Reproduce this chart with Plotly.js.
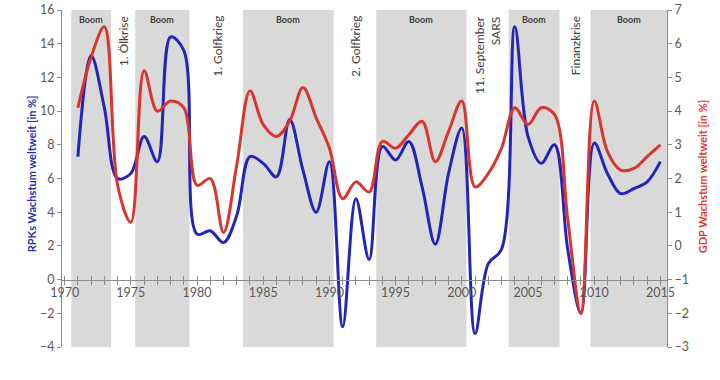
<!DOCTYPE html>
<html>
<head>
<meta charset="utf-8">
<script src="https://cdn.plot.ly/plotly-3.0.1.min.js"></script>
<style>html,body{margin:0;padding:0;background:#fff;}#chart{width:720px;height:380px;}</style>
</head>
<body>
<div id="chart"></div>
<script>
const years = [1971,1972,1973,1974,1975,1976,1977,1978,1979,1980,1981,1982,1983,1984,1985,1986,1987,1988,1989,1990,1991,1992,1993,1994,1995,1996,1997,1998,1999,2000,2001,2002,2003,2004,2005,2006,2007,2008,2009,2010,2011,2012,2013,2014,2015];
const rpkGrowth = [7.3,13.3,10.2,6.0,6.3,8.5,7.0,14.4,13.6,2.7,2.9,2.2,3.8,7.3,6.9,6.1,9.5,6.5,4.0,7.0,-2.8,4.8,1.2,7.9,7.1,8.2,5.5,2.1,6.3,9.0,-3.2,0.95,1.8,15.0,8.5,6.9,8.0,1.8,-2.0,8.1,6.3,5.1,5.4,5.8,7.0];
const gdpGrowth = [4.1,5.6,6.5,1.8,0.7,5.2,4.0,4.3,4.1,1.8,2.0,0.4,2.4,4.6,3.6,3.25,3.7,4.7,3.8,2.9,1.4,1.9,1.6,3.1,2.9,3.3,3.7,2.5,3.4,4.3,1.75,2.15,2.9,4.1,3.6,4.1,3.9,0.8,-2.0,4.3,2.8,2.25,2.3,2.65,3.0];
const boomStart = [1970.5,1975.33,1983.47,1993.54,2003.54,2009.72];
const boomEnd   = [1973.51,1979.43,1990.32,2000.35,2007.38,2015.5];
const boomLabel = "Boom";
const eventX = [1974.42,1981.53,1991.96,2001.9,2008.6];
const eventText = ["1. Ölkrise","1. Golfkrieg","2. Golfkrieg","11. September<br>SARS","Finanzkrise"];
const xTickVals = [1970,1975,1980,1985,1990,1995,2000,2005,2010,2015];
const leftTitle = "RPKs Wachstum weltweit [in %]";
const rightTitle = "GDP Wachstum weltweit [in %]";

const FONT = "Lato, 'Open Sans', sans-serif";
const shapes = boomStart.map((s,i)=>({type:'rect',xref:'x',yref:'paper',x0:s,x1:boomEnd[i],y0:0,y1:1,fillcolor:'#d9d9d9',line:{width:0},layer:'below'}));
const annotations = [];
boomStart.forEach((s,i)=>{
  annotations.push({xref:'x',yref:'paper',x:(s+boomEnd[i])/2,y:0.995,yanchor:'top',xanchor:'center',text:'<b>'+boomLabel+'</b>',showarrow:false,font:{family:FONT,size:9,color:'#404040'}});
});
eventX.forEach((x,i)=>{
  annotations.push({xref:'x',yref:'paper',x:x,y:0.988,yanchor:'top',xanchor:'center',text:eventText[i],textangle:-90,align:'right',showarrow:false,font:{family:FONT,size:12,color:'#404040'}});
});
annotations.push({xref:'paper',yref:'paper',x:-0.051,y:0.513,xanchor:'center',yanchor:'middle',textangle:-90,text:'<b>'+leftTitle+'</b>',showarrow:false,font:{family:FONT,size:11,color:'#2b2bb5'}});
annotations.push({xref:'paper',yref:'paper',x:1.058,y:0.504,xanchor:'center',yanchor:'middle',textangle:-90,text:'<b>'+rightTitle+'</b>',showarrow:false,font:{family:FONT,size:11,color:'#e0392e'}});

const traces = [
  {x:years,y:rpkGrowth,type:'scatter',mode:'lines',line:{color:'#2424b8',width:3,shape:'spline',smoothing:1},xaxis:'x',yaxis:'y',hoverinfo:'skip'},
  {x:years,y:gdpGrowth,type:'scatter',mode:'lines',line:{color:'#d9352c',width:3,shape:'spline',smoothing:1},xaxis:'x',yaxis:'y2',hoverinfo:'skip'},
  {x:[2000],y:[null],type:'scatter',mode:'lines',xaxis:'x2',yaxis:'y',showlegend:false,hoverinfo:'skip'}
];

const layout = {
  width:720,height:380,
  margin:{l:62,r:53,t:10,b:33},
  paper_bgcolor:'#fff',plot_bgcolor:'rgba(0,0,0,0)',
  showlegend:false,
  font:{family:FONT,color:'#595959'},
  xaxis:{range:[1969.8,2015.5],anchor:'free',position:0.2,tickvals:xTickVals,ticks:'outside',ticklen:4,tickcolor:'#8c8c8c',ticklabelstandoff:-3,
    minor:{dtick:1,tick0:1970,ticks:'outside',ticklen:4,tickcolor:'#8c8c8c'},
    showline:true,linecolor:'#8c8c8c',linewidth:1,showgrid:false,zeroline:false,tickfont:{family:FONT,size:12.5,color:'#595959'}},
  xaxis2:{range:[1969.8,2015.5],overlaying:'x',anchor:'free',position:0.2,dtick:1,tick0:1970,ticks:'inside',ticklen:4,tickcolor:'#8c8c8c',showticklabels:false,showline:false,showgrid:false,zeroline:false},
  yaxis:{range:[-4,16],dtick:2,ticks:'outside',ticklen:4,tickcolor:'#8c8c8c',showline:true,linecolor:'#8c8c8c',showgrid:false,zeroline:false,
    tickfont:{family:FONT,size:12.5,color:'#595959'}},
  yaxis2:{range:[-3,7],dtick:1,overlaying:'y',side:'right',anchor:'x',ticks:'outside',ticklen:4,tickcolor:'#8c8c8c',showline:true,linecolor:'#8c8c8c',showgrid:false,zeroline:false,
    tickfont:{family:FONT,size:12.5,color:'#595959'}},
  shapes:shapes,
  annotations:annotations
};
Plotly.newPlot('chart',traces,layout,{staticPlot:true,displayModeBar:false});
</script>
</body>
</html>
